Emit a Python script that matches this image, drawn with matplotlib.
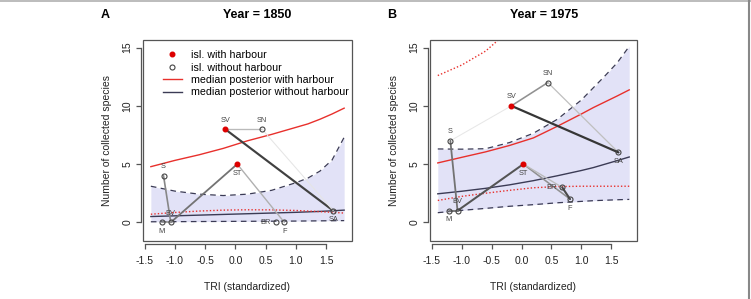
import numpy as np
import matplotlib
matplotlib.use('Agg')
import matplotlib.pyplot as plt
from matplotlib.lines import Line2D
from matplotlib.patches import Rectangle

plt.rcParams['font.family'] = ['Liberation Sans', 'DejaVu Sans']
plt.rcParams['axes.unicode_minus'] = False

# islands
islands = ['M', 'BV', 'S', 'SV', 'ST', 'SN', 'BR', 'F', 'SA']
tri = [-1.22, -1.07, -1.19, -0.17, 0.03, 0.44, 0.68, 0.81, 1.62]
harbour = [0, 0, 0, 1, 1, 0, 0, 0, 0]
label_side = ['below', 'above', 'above', 'above', 'below', 'above', 'left', 'below', 'below']
species_1850 = [0, 0, 4, 8, 5, 8, 0, 0, 1]
species_1975 = [1, 1, 7, 10, 5, 12, 3, 2, 6]

# links between islands (strength 0..1)
links_1850 = [('SV', 'SN', 0.25), ('SV', 'SA', 0.85), ('SN', 'SA', 0.04),
              ('ST', 'BV', 0.6), ('ST', 'F', 0.3), ('S', 'BV', 0.5), ('M', 'BV', 0.45)]
links_1975 = [('S', 'SV', 0.03), ('SV', 'SN', 0.45), ('SN', 'SA', 0.22), ('SV', 'SA', 0.9),
              ('S', 'BV', 0.6), ('ST', 'BV', 0.75), ('M', 'BV', 0.6),
              ('ST', 'F', 0.45), ('ST', 'BR', 0.25), ('BR', 'F', 0.8)]

# posterior curves
tri_grid = [-1.4, -1.0, -0.6, -0.2, 0.2, 0.6, 1.0, 1.2, 1.4, 1.6, 1.8]

med_harb_1850 = [4.78, 5.32, 5.8, 6.35, 7.0, 7.55, 8.15, 8.45, 8.85, 9.3, 9.8]
med_noharb_1850 = [0.5, 0.56, 0.62, 0.68, 0.74, 0.8, 0.86, 0.9, 0.94, 0.99, 1.05]
lo_noharb_1850 = [0.05, 0.06, 0.07, 0.08, 0.09, 0.1, 0.11, 0.12, 0.13, 0.14, 0.15]
hi_noharb_1850 = [3.1, 2.68, 2.42, 2.3, 2.42, 2.75, 3.4, 3.8, 4.4, 5.35, 7.3]
lo_harb_1850 = [0.7, 0.85, 0.97, 1.05, 1.08, 1.07, 1.02, 0.97, 0.92, 0.86, 0.8]

med_harb_1975 = [5.1, 5.58, 6.05, 6.6, 7.25, 8.25, 9.3, 9.85, 10.35, 10.85, 11.37]
med_noharb_1975 = [2.45, 2.67, 2.92, 3.22, 3.58, 4.0, 4.45, 4.7, 5.0, 5.3, 5.61]
lo_noharb_1975 = [0.83, 1.03, 1.2, 1.38, 1.52, 1.68, 1.8, 1.86, 1.9, 1.94, 1.97]
hi_noharb_1975 = [6.3, 6.28, 6.32, 6.85, 7.65, 8.85, 10.5, 11.55, 12.6, 13.7, 15.1]
lo_harb_1975 = [1.88, 2.23, 2.5, 2.75, 2.97, 3.07, 3.1, 3.1, 3.1, 3.1, 3.1]
hi_harb_1975 = [12.6, 13.5, 14.7, 16.5, 18.5, 21.0, 24.0, 26.0, 28.0, 30.0, 32.0]

xticks = [-1.5, -1.0, -0.5, 0.0, 0.5, 1.0, 1.5]
xtick_labels = ['-1.5', '-1.0', '-0.5', '0.0', '0.5', '1.0', '1.5']
yticks = [0, 5, 10, 15]

RED = '#e8302c'
DARK = '#3b3b55'
SHADE = '#e2e2f7'

fig = plt.figure(figsize=(7.51, 2.99), dpi=100)
W, H = 751, 299


def px_axes(l, t, r, b):
    return fig.add_axes([l / W, 1 - b / H, (r - l) / W, (b - t) / H])


def draw_panel(ax, species, links, med_h, med_n, lo_n, hi_n, lo_h, hi_h=None):
    ax.fill_between(tri_grid, lo_n, hi_n, color=SHADE, lw=0, zorder=1)
    ax.plot(tri_grid, hi_n, color=DARK, lw=0.9, ls=(0, (4.5, 3.5)), zorder=2)
    ax.plot(tri_grid, lo_n, color=DARK, lw=0.9, ls=(0, (4.5, 3.5)), zorder=2)
    ax.plot(tri_grid, med_n, color=DARK, lw=1, zorder=2)
    ax.plot(tri_grid, med_h, color=RED, lw=1, zorder=2)
    ax.plot(tri_grid, lo_h, color=RED, lw=1, ls=(0, (1, 1.5)), zorder=2)
    if hi_h is not None:
        ax.plot(tri_grid, hi_h, color=RED, lw=1, ls=(0, (1, 1.5)), zorder=2)

    idx = {n: i for i, n in enumerate(islands)}
    for a, b, w in links:
        g = 0.93 - 0.8 * w
        ax.plot([tri[idx[a]], tri[idx[b]]], [species[idx[a]], species[idx[b]]],
                color=(g, g, g), lw=0.7 + 1.0 * w, zorder=3, solid_capstyle='round')

    for i, name in enumerate(islands):
        if harbour[i]:
            ax.plot(tri[i], species[i], 'o', color='#dd0000', ms=3.3, zorder=5)
        else:
            ax.plot(tri[i], species[i], 'o', mfc='none', mec='#444444', mew=0.8, ms=3.6, zorder=5)
        off = {'above': (0, 9), 'below': (0, -9), 'left': (-11, 0)}[label_side[i]]
        ax.annotate(name, (tri[i], species[i]), xytext=off, textcoords='offset pixels',
                    ha='center', va='center', fontsize=5.3, color='#444444', zorder=6)

    ax.set_xlim(-1.53, 1.93)
    ax.set_ylim(-1.6, 15.65)
    ax.set_xticks(xticks, xtick_labels)
    ax.set_yticks(yticks, [str(v) for v in yticks])
    for s in ax.spines.values():
        s.set_visible(False)
    ax.spines['bottom'].set_visible(True)
    ax.spines['left'].set_visible(True)
    ax.spines['bottom'].set_position(('outward', 2.5))
    ax.spines['left'].set_position(('outward', 1.5))
    ax.spines['bottom'].set_bounds(xticks[0], xticks[-1])
    ax.spines['left'].set_bounds(yticks[0], yticks[-1])
    for s in ('bottom', 'left'):
        ax.spines[s].set_color('#555555')
        ax.spines[s].set_linewidth(0.9)
    ax.add_patch(Rectangle((0, 0), 1, 1, transform=ax.transAxes, fill=False,
                           ec='#555555', lw=0.9, clip_on=False, zorder=7))
    ax.tick_params(axis='both', colors='#555555', labelcolor='#222222', labelsize=7.5,
                   length=3.6, width=0.9)
    ax.tick_params(axis='x', pad=4.5)
    ax.tick_params(axis='y', pad=2.5, labelrotation=90)
    for lab in ax.get_yticklabels():
        lab.set_va('center')


axA = px_axes(143, 40, 352, 241)
draw_panel(axA, species_1850, links_1850, med_harb_1850, med_noharb_1850,
           lo_noharb_1850, hi_noharb_1850, lo_harb_1850)
axB = px_axes(430, 40, 637, 241)
draw_panel(axB, species_1975, links_1975, med_harb_1975, med_noharb_1975,
           lo_noharb_1975, hi_noharb_1975, lo_harb_1975, hi_harb_1975)

handles = [
    Line2D([], [], ls='none', marker='o', color='#dd0000', ms=3.3),
    Line2D([], [], ls='none', marker='o', mfc='none', mec='#444444', mew=0.8, ms=3.6),
    Line2D([], [], color=RED, lw=1),
    Line2D([], [], color=DARK, lw=1),
]
labels = ['isl. with harbour', 'isl. without harbour',
          'median posterior with harbour', 'median posterior without harbour']
axA.legend(handles, labels, loc='upper left', bbox_to_anchor=(0.095, 0.95),
           frameon=False, fontsize=7.7, borderpad=0, borderaxespad=0,
           handlelength=1.75, handletextpad=0.9, labelspacing=0.23)

for x, t in [(105, 'A'), (392, 'B')]:
    fig.text(x / W, 1 - 15 / H, t, ha='center', va='center', fontsize=9, fontweight='bold')
for x, t in [(257, 'Year = 1850'), (544, 'Year = 1975')]:
    fig.text(x / W, 1 - 15 / H, t, ha='center', va='center', fontsize=9, fontweight='bold')
for x in (107, 394):
    fig.text(x / W, 1 - 140 / H, 'Number of collected species', ha='center', va='center',
             rotation=90, fontsize=7.5, color='#222222')
for x in (247, 533):
    fig.text(x / W, 1 - 287 / H, 'TRI (standardized)', ha='center', va='center',
             fontsize=7.5, color='#222222')

# thin gray frame on top and right edge
fig.add_artist(Line2D([0, 1], [0.998, 0.998], transform=fig.transFigure, color='#b0b0b0', lw=1.2))
fig.add_artist(Line2D([0.998, 0.998], [0, 1], transform=fig.transFigure, color='#888888', lw=1.5))

fig.savefig('out.png', dpi=100)
